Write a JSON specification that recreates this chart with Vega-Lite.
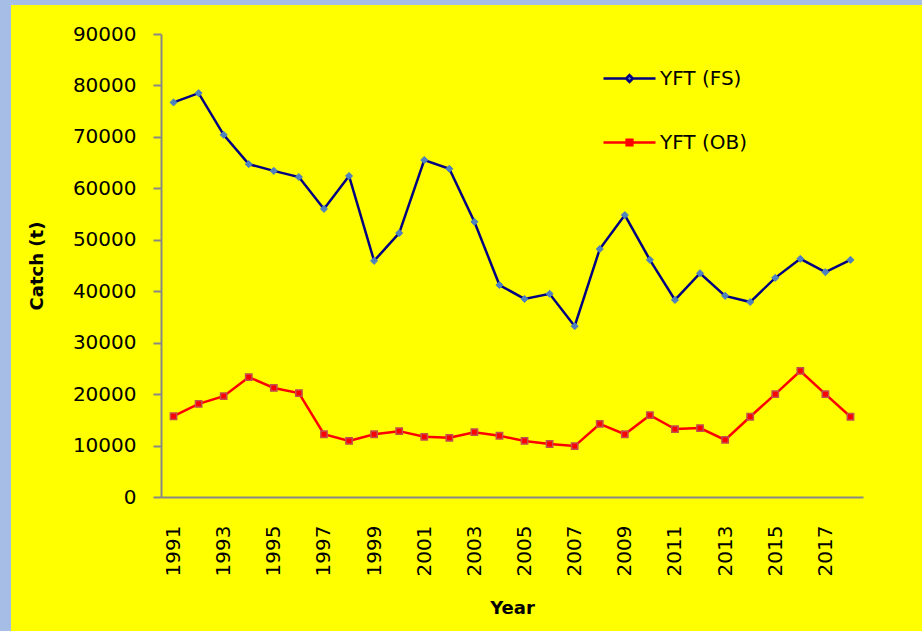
{
  "$schema": "https://vega.github.io/schema/vega-lite/v6.json",
  "background": "#FFFF00",
  "padding": 0,
  "config": {
    "view": {"stroke": null},
    "font": "DejaVu Sans",
    "concat": {"spacing": 0}
  },
  "datasets": {
    "catch": [
      {"year": 1991, "series": "YFT (FS)", "catch": 76700},
      {"year": 1992, "series": "YFT (FS)", "catch": 78500},
      {"year": 1993, "series": "YFT (FS)", "catch": 70400},
      {"year": 1994, "series": "YFT (FS)", "catch": 64700},
      {"year": 1995, "series": "YFT (FS)", "catch": 63400},
      {"year": 1996, "series": "YFT (FS)", "catch": 62200},
      {"year": 1997, "series": "YFT (FS)", "catch": 56000},
      {"year": 1998, "series": "YFT (FS)", "catch": 62400},
      {"year": 1999, "series": "YFT (FS)", "catch": 45900},
      {"year": 2000, "series": "YFT (FS)", "catch": 51300},
      {"year": 2001, "series": "YFT (FS)", "catch": 65500},
      {"year": 2002, "series": "YFT (FS)", "catch": 63800},
      {"year": 2003, "series": "YFT (FS)", "catch": 53500},
      {"year": 2004, "series": "YFT (FS)", "catch": 41200},
      {"year": 2005, "series": "YFT (FS)", "catch": 38500},
      {"year": 2006, "series": "YFT (FS)", "catch": 39500},
      {"year": 2007, "series": "YFT (FS)", "catch": 33200},
      {"year": 2008, "series": "YFT (FS)", "catch": 48200},
      {"year": 2009, "series": "YFT (FS)", "catch": 54800},
      {"year": 2010, "series": "YFT (FS)", "catch": 46100},
      {"year": 2011, "series": "YFT (FS)", "catch": 38300},
      {"year": 2012, "series": "YFT (FS)", "catch": 43500},
      {"year": 2013, "series": "YFT (FS)", "catch": 39100},
      {"year": 2014, "series": "YFT (FS)", "catch": 37900},
      {"year": 2015, "series": "YFT (FS)", "catch": 42600},
      {"year": 2016, "series": "YFT (FS)", "catch": 46300},
      {"year": 2017, "series": "YFT (FS)", "catch": 43700},
      {"year": 2018, "series": "YFT (FS)", "catch": 46100},
      {"year": 1991, "series": "YFT (OB)", "catch": 15700},
      {"year": 1992, "series": "YFT (OB)", "catch": 18100},
      {"year": 1993, "series": "YFT (OB)", "catch": 19600},
      {"year": 1994, "series": "YFT (OB)", "catch": 23300},
      {"year": 1995, "series": "YFT (OB)", "catch": 21200},
      {"year": 1996, "series": "YFT (OB)", "catch": 20200},
      {"year": 1997, "series": "YFT (OB)", "catch": 12200},
      {"year": 1998, "series": "YFT (OB)", "catch": 10900},
      {"year": 1999, "series": "YFT (OB)", "catch": 12200},
      {"year": 2000, "series": "YFT (OB)", "catch": 12800},
      {"year": 2001, "series": "YFT (OB)", "catch": 11700},
      {"year": 2002, "series": "YFT (OB)", "catch": 11500},
      {"year": 2003, "series": "YFT (OB)", "catch": 12600},
      {"year": 2004, "series": "YFT (OB)", "catch": 11900},
      {"year": 2005, "series": "YFT (OB)", "catch": 10900},
      {"year": 2006, "series": "YFT (OB)", "catch": 10300},
      {"year": 2007, "series": "YFT (OB)", "catch": 9900},
      {"year": 2008, "series": "YFT (OB)", "catch": 14200},
      {"year": 2009, "series": "YFT (OB)", "catch": 12200},
      {"year": 2010, "series": "YFT (OB)", "catch": 15900},
      {"year": 2011, "series": "YFT (OB)", "catch": 13200},
      {"year": 2012, "series": "YFT (OB)", "catch": 13400},
      {"year": 2013, "series": "YFT (OB)", "catch": 11100},
      {"year": 2014, "series": "YFT (OB)", "catch": 15600},
      {"year": 2015, "series": "YFT (OB)", "catch": 20000},
      {"year": 2016, "series": "YFT (OB)", "catch": 24500},
      {"year": 2017, "series": "YFT (OB)", "catch": 20000},
      {"year": 2018, "series": "YFT (OB)", "catch": 15600}
    ]
  },
  "spacing": 0,
  "hconcat": [
    {
      "width": 11,
      "height": 631,
      "view": {"fill": "#A6BDE6", "stroke": null},
      "data": {"values": [{"k": 1}]},
      "mark": {"type": "rect", "color": "#A6BDE6"},
      "encoding": {}
    },
    {
      "spacing": 0,
      "vconcat": [
        {
          "width": 911,
          "height": 5,
          "view": {"fill": "#A6BDE6", "stroke": null},
          "data": {"values": [{"k": 1}]},
          "mark": {"type": "rect", "color": "#A6BDE6"},
          "encoding": {}
        },
        {
          "spacing": 16,
          "hconcat": [
            {
              "width": 1,
              "height": 1,
              "data": {"values": [{"k": 1}]},
              "mark": {"type": "rect", "opacity": 0},
              "encoding": {}
            },
            {
              "width": 702,
              "height": 463,
              "title": {"text": " ", "fontSize": 1, "offset": 18},
              "data": {"name": "catch"},
              "encoding": {
                "x": {
                  "field": "year",
                  "type": "ordinal",
                  "title": "Year",
                  "scale": {"type": "point", "padding": 0.5},
                  "axis": {
                    "values": [1991, 1993, 1995, 1997, 1999, 2001, 2003, 2005, 2007, 2009, 2011, 2013, 2015, 2017],
                    "labelAngle": -90,
                    "ticks": false,
                    "tickSize": 0,
                    "grid": false,
                    "domainColor": "#888888",
                    "domainWidth": 2,
                    "labelFontSize": 20,
                    "labelColor": "#000000",
                    "labelPadding": 28,
                    "titleFontSize": 18,
                    "titleFontWeight": "bold",
                    "titleColor": "#000000",
                    "titlePadding": 24
                  }
                },
                "y": {
                  "field": "catch",
                  "type": "quantitative",
                  "title": "Catch (t)",
                  "scale": {"domain": [0, 90000], "nice": false},
                  "axis": {
                    "values": [0, 10000, 20000, 30000, 40000, 50000, 60000, 70000, 80000, 90000],
                    "format": "d",
                    "grid": false,
                    "domainColor": "#888888",
                    "domainWidth": 2,
                    "tickColor": "#888888",
                    "tickWidth": 2,
                    "tickSize": 8,
                    "labelFontSize": 20,
                    "labelColor": "#000000",
                    "labelPadding": 17,
                    "titleFontSize": 18,
                    "titleFontWeight": "bold",
                    "titleColor": "#000000",
                    "titlePadding": 26
                  }
                }
              },
              "layer": [
                {
                  "mark": {"type": "line", "strokeWidth": 2.5},
                  "encoding": {
                    "stroke": {
                      "field": "series",
                      "type": "nominal",
                      "scale": {"domain": ["YFT (FS)", "YFT (OB)"], "range": ["#000080", "#FF0000"]},
                      "legend": {
                        "orient": "none",
                        "legendX": 602,
                        "legendY": 51,
                        "title": null,
                        "padding": 0,
                        "symbolType": "M-1,0L1,0",
                        "symbolSize": 2704,
                        "symbolStrokeWidth": 2.5,
                        "labelFontSize": 20,
                        "labelColor": "#000000",
                        "labelOffset": 3,
                        "rowPadding": 26,
                        "encode": {
                          "symbols": {
                            "update": {
                              "shape": {"signal": "datum.value === 'YFT (FS)' ? 'M-1,0L-0.1,0M0.1,0L1,0M0,-0.13L0.13,0L0,0.13L-0.13,0Z' : 'M-1,0L1,0M-0.11,-0.11L0.11,-0.11L0.11,0.11L-0.11,0.11Z'"},
                              "fill": {"signal": "datum.value === 'YFT (FS)' ? '#4F81BD' : '#FF0000'"},
                              "stroke": {"signal": "datum.value === 'YFT (FS)' ? '#000080' : '#FF0000'"}
                            }
                          }
                        }
                      }
                    }
                  }
                },
                {
                  "transform": [{"filter": "datum.series === 'YFT (FS)'"}],
                  "mark": {"type": "point", "shape": "diamond", "filled": true, "opacity": 1, "size": 50, "fill": "#4F81BD", "stroke": "#4F81BD", "strokeWidth": 1}
                },
                {
                  "transform": [{"filter": "datum.series === 'YFT (OB)'"}],
                  "mark": {"type": "point", "shape": "square", "filled": true, "opacity": 1, "size": 40, "fill": "#FF0000", "stroke": "#C0504D", "strokeWidth": 1.5}
                }
              ]
            }
          ]
        }
      ]
    }
  ]
}
